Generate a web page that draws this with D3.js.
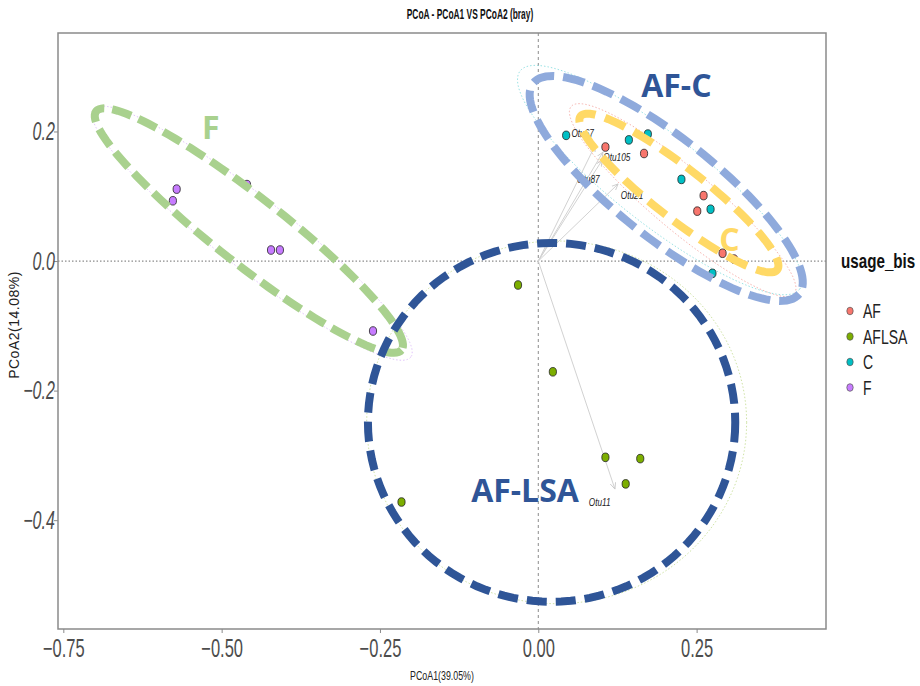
<!DOCTYPE html>
<html>
<head>
<meta charset="utf-8">
<script src="https://cdn.jsdelivr.net/npm/d3@7/dist/d3.min.js"></script>
<style>
  body { margin: 0; background: #fff; }
  svg { display: block; }
</style>
</head>
<body>
<div id="chart"></div>
<script>
// PCoA scatter with hand-drawn group ellipses

// --- data ---
const groups = ['AF', 'AFLSA', 'C', 'F'];
const groupColors = ['#F8766D', '#7CAE00', '#00BFC4', '#C77CFF'];

const pcoa1AF = [0.106, 0.167, 0.261, 0.251, 0.309, 0.291];
const pcoa2AF = [0.176, 0.166, 0.101, 0.077, 0.003, 0.012];
const pcoa1AFLSA = [-0.032, 0.023, 0.106, 0.161, 0.138, -0.216];
const pcoa2AFLSA = [-0.037, -0.171, -0.303, -0.305, -0.344, -0.372];
const pcoa1C = [0.044, 0.143, 0.173, 0.226, 0.272, 0.275];
const pcoa2C = [0.194, 0.187, 0.196, 0.126, 0.080, -0.019];
const pcoa1F = [-0.571, -0.577, -0.460, -0.422, -0.408, -0.261];
const pcoa2F = [0.111, 0.093, 0.118, 0.017, 0.017, -0.108];

// species vectors (arrow tips) and where their labels sit
const otuNames = ['Otu67', 'Otu105', 'Otu87', 'Otu21', 'Otu11'];
const otuX = [0.090, 0.102, 0.101, 0.126, 0.121];
const otuY = [0.179, 0.168, 0.156, 0.119, -0.352];
const otuLabelX = [0.070, 0.124, 0.079, 0.148, 0.097];
const otuLabelY = [0.197, 0.160, 0.127, 0.101, -0.372];

const xTicks = [-0.75, -0.50, -0.25, 0.00, 0.25];
const yTicks = [0.2, 0.0, -0.2, -0.4];

// annotation ellipses: centre (data units), half axes (data units), tilt in degrees
const annotNames = ['F', 'AF-LSA', 'AF-C', 'C'];
const annotCx = [-0.457, 0.021, 0.202, 0.222];
const annotCy = [0.047, -0.249, 0.112, 0.105];
const annotA = [0.306, 0.290, 0.268, 0.197];
const annotB = [0.052, 0.277, 0.077, 0.039];
const annotTilt = [38, 0, 38.4, 38];
const annotLabelX = [-0.517, -0.021, 0.218, 0.302];
const annotLabelY = [0.205, -0.355, 0.271, 0.033];

// thin stat ellipses per group (AF, AFLSA, C, F)
const statCx = [0.228, 0.029, 0.192, -0.452];
const statCy = [0.094, -0.249, 0.125, 0.043];
const statA = [0.230, 0.300, 0.280, 0.318];
const statB = [0.047, 0.280, 0.069, 0.055];
const statTilt = [40, 0, 38, 38];

// --- layout ---
const W = 920, H = 686;
const m = {top: 33, right: 94, bottom: 57, left: 58};
const svg = d3.select('#chart').append('svg').attr('width', W).attr('height', H);

const x = d3.scaleLinear().domain([-0.7584, 0.4543]).range([m.left, W - m.right]);
const y = d3.scaleLinear().domain([-0.568, 0.352]).range([H - m.bottom, m.top]);
const color = d3.scaleOrdinal().domain(groups).range(groupColors);

const sans = "'Liberation Sans', Arial, sans-serif";

// text squeezed horizontally, like the condensed font of the original
function narrowText(parent, px, py, str, size, sx, opts = {}) {
  const g = parent.append('g').attr('transform', `translate(${px},${py}) scale(${sx},1)`);
  return g.append('text').attr('x', 0).attr('y', 0)
    .attr('text-anchor', opts.anchor || 'start')
    .attr('font-family', sans).attr('font-size', size)
    .attr('font-weight', opts.weight || 400).attr('font-style', opts.style || 'normal')
    .attr('fill', opts.fill || '#222').attr('dy', opts.dy || 0).text(str);
}

// clip to the panel
svg.append('clipPath').attr('id', 'panel')
  .append('rect').attr('x', m.left).attr('y', m.top)
  .attr('width', W - m.left - m.right).attr('height', H - m.top - m.bottom);
const plot = svg.append('g').attr('clip-path', 'url(#panel)');

// reference lines at 0
plot.append('line')
  .attr('x1', m.left).attr('x2', W - m.right).attr('y1', y(0)).attr('y2', y(0))
  .attr('stroke', '#8c8c8c').attr('stroke-width', 1.2).attr('stroke-dasharray', '1.5,2');
plot.append('line')
  .attr('x1', x(0)).attr('x2', x(0)).attr('y1', m.top).attr('y2', H - m.bottom)
  .attr('stroke', '#8c8c8c').attr('stroke-width', 1).attr('stroke-dasharray', '3,3');

function ellipsePath(cx, cy, a, b, tilt) {
  const px = x(cx), py = y(cy);
  const ax = x(a) - x(0), by = y(0) - y(b);
  const th = tilt * Math.PI / 180;
  const pts = d3.range(0, 361, 3).map(deg => {
    const t = deg * Math.PI / 180;
    const ex = ax * Math.cos(t), ey = by * Math.sin(t);
    return [px + ex * Math.cos(th) - ey * Math.sin(th), py + ex * Math.sin(th) + ey * Math.cos(th)];
  });
  return d3.line()(pts) + 'Z';
}

// thin dotted group ellipses
const statColors = ['#f7b5b0', '#cfe3a6', '#9be3e5', '#e2c4fb'];
groups.forEach((g, i) => {
  plot.append('path')
    .attr('d', ellipsePath(statCx[i], statCy[i], statA[i], statB[i], statTilt[i]))
    .attr('fill', 'none').attr('stroke', statColors[i])
    .attr('stroke-width', 1).attr('stroke-dasharray', '1.5,2');
});

// arrows
svg.append('defs').append('marker')
  .attr('id', 'arrow').attr('viewBox', '0 0 10 10').attr('refX', 9).attr('refY', 5)
  .attr('markerWidth', 7).attr('markerHeight', 7).attr('orient', 'auto-start-reverse')
  .append('path').attr('d', 'M0,1 L9,5 L0,9').attr('fill', 'none')
  .attr('stroke', '#c8c8c8').attr('stroke-width', 1.2);
otuNames.forEach((n, i) => {
  plot.append('line')
    .attr('x1', x(0)).attr('y1', y(0)).attr('x2', x(otuX[i])).attr('y2', y(otuY[i]))
    .attr('stroke', '#d2d2d2').attr('stroke-width', 1).attr('marker-end', 'url(#arrow)');
});

// points
const pts = [];
[[pcoa1AF, pcoa2AF], [pcoa1AFLSA, pcoa2AFLSA], [pcoa1C, pcoa2C], [pcoa1F, pcoa2F]].forEach((s, gi) => {
  s[0].forEach((v, j) => pts.push({g: groups[gi], x: v, y: s[1][j]}));
});
plot.append('g').selectAll('ellipse')
  .data(pts).enter().append('ellipse')
  .attr('cx', d => x(d.x)).attr('cy', d => y(d.y))
  .attr('rx', 3.6).attr('ry', 4.3)
  .attr('fill', d => color(d.g)).attr('stroke', '#222').attr('stroke-width', 0.8);

// Otu labels
otuNames.forEach((n, i) => {
  narrowText(plot, x(otuLabelX[i]), y(otuLabelY[i]), n, 11, 0.75,
    {anchor: 'middle', style: 'italic', dy: '0.35em', fill: '#222'});
});

// big dashed annotation ellipses
const annotColors = ['#a9d18e', '#2f5597', '#8faadc', '#ffd966'];
const annotDash = ['20,8', '20,9', '22,9', '22,10'];
annotNames.forEach((n, i) => {
  plot.append('path')
    .attr('d', ellipsePath(annotCx[i], annotCy[i], annotA[i], annotB[i], annotTilt[i]))
    .attr('fill', 'none').attr('stroke', annotColors[i])
    .attr('stroke-width', 8).attr('stroke-dasharray', annotDash[i]);
});
const annotTextColors = ['#a9d18e', '#2f5597', '#2f5597', '#ffd966'];
annotNames.forEach((n, i) => {
  svg.append('text')
    .attr('x', x(annotLabelX[i])).attr('y', y(annotLabelY[i]))
    .attr('text-anchor', 'middle').attr('dy', '0.35em')
    .attr('font-family', "'Open Sans', Lato, sans-serif").attr('font-weight', 700)
    .attr('font-size', 32).attr('fill', annotTextColors[i]).text(n);
});

// panel border
svg.append('rect')
  .attr('x', m.left).attr('y', m.top)
  .attr('width', W - m.left - m.right).attr('height', H - m.top - m.bottom)
  .attr('fill', 'none').attr('stroke', '#8a8a8a').attr('stroke-width', 1.5);

// axes
const xAxis = svg.append('g').attr('transform', `translate(0,${H - m.bottom})`)
  .call(d3.axisBottom(x).tickValues(xTicks).tickFormat(d3.format('.2f')).tickSize(4).tickPadding(6));
const yAxis = svg.append('g').attr('transform', `translate(${m.left},0)`)
  .call(d3.axisLeft(y).tickValues(yTicks).tickFormat(d3.format('.1f')).tickSize(4).tickPadding(3));
[xAxis, yAxis].forEach(a => {
  a.select('.domain').remove();
  a.selectAll('line').attr('stroke', '#8a8a8a');
  a.selectAll('text').attr('fill', '#4d4d4d').attr('font-family', sans).attr('font-size', 25);
});
xAxis.selectAll('text').attr('transform', 'scale(0.66,1)').attr('dy', '0.74em');
yAxis.selectAll('text').attr('font-style', 'italic').attr('x', -5).attr('transform', 'scale(0.64,1)');

// titles
narrowText(svg, 470, 19, 'PCoA - PCoA1 VS PCoA2 (bray)', 14, 0.6,
  {anchor: 'middle', weight: 700, fill: '#111'});
narrowText(svg, 442, 680, 'PCoA1(39.05%)', 13, 0.68, {anchor: 'middle', fill: '#222'});
svg.append('text').attr('transform', 'translate(19,325) rotate(-90)').attr('text-anchor', 'middle')
  .attr('font-family', sans).attr('font-size', 14).attr('letter-spacing', 0.5)
  .attr('fill', '#222').text('PCoA2(14.08%)');

// legend
narrowText(svg, 841, 268, 'usage_bis', 20, 0.76, {weight: 700, fill: '#111'});
const legend = svg.append('g');
legend.selectAll('g.item').data(groups).enter().append('g')
  .attr('class', 'item')
  .attr('transform', (d, i) => `translate(0,${311 + i * 25.5})`)
  .each(function(d) {
    const g = d3.select(this);
    g.append('ellipse').attr('cx', 850).attr('cy', 0).attr('rx', 3.2).attr('ry', 3.8)
      .attr('fill', color(d)).attr('stroke', '#555').attr('stroke-width', 0.7);
    narrowText(g, 863, 0, d, 20, 0.7, {dy: '0.36em', fill: '#222'});
  });
</script>
</body>
</html>
